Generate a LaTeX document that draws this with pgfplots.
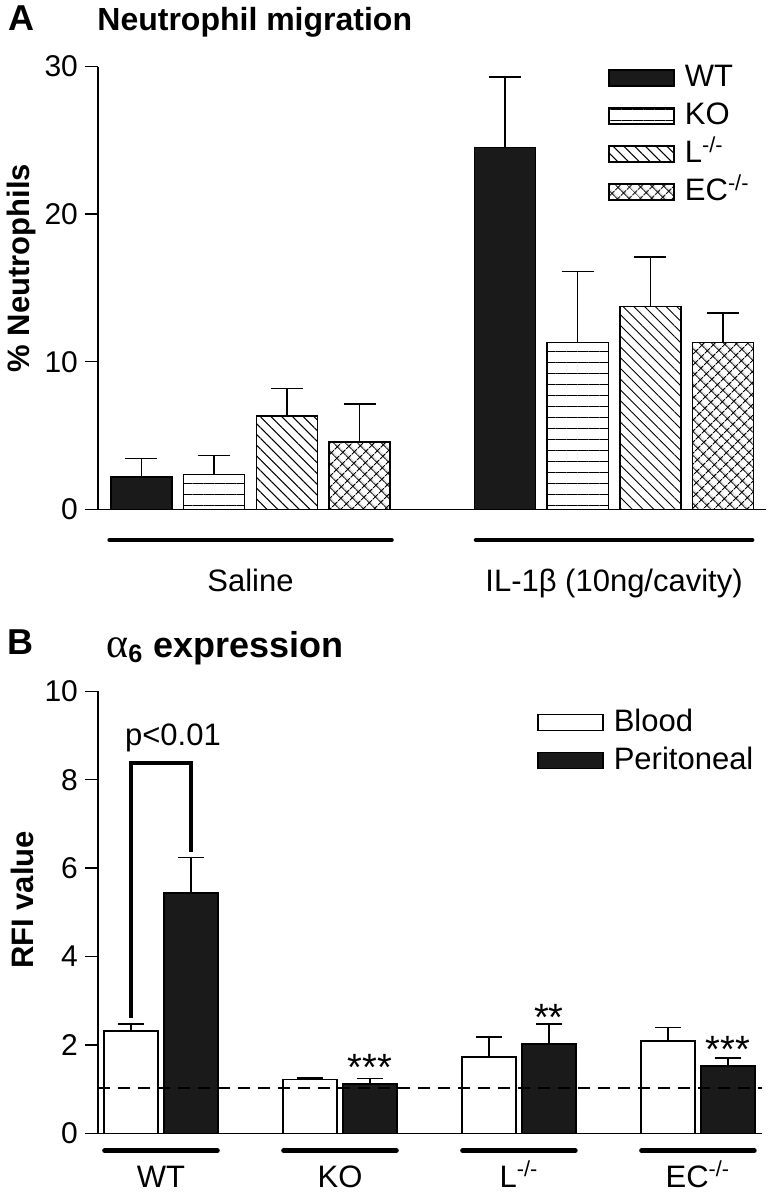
\documentclass[border=0pt]{standalone}
\usepackage{pgfplots}
\pgfplotsset{compat=1.18}
\usepackage{fontspec}
\setmainfont{Liberation Sans}
\newfontfamily\greekserif{Liberation Serif}
\usetikzlibrary{patterns.meta}
\definecolor{barblack}{RGB}{26,26,26}
\pgfplotsset{
  errA/.style={error bars/.cd, y dir=plus, y explicit,
    error bar style={line width=0.75pt, black},
    error mark options={rotate=90, mark size=8pt, line width=0.75pt, black}},
  errB/.style={error bars/.cd, y dir=plus, y explicit,
    error bar style={line width=0.75pt, black},
    error mark options={rotate=90, mark size=6.5pt, line width=0.75pt, black}},
}
\begin{document}
\begin{tikzpicture}
\useasboundingbox (0,0) rectangle (383.5pt,-599.5pt);
% ---------------- Panel A ----------------
\node[anchor=base west, inner sep=0pt, font=\bfseries\fontsize{18}{21}\selectfont] at (4pt,-15.5pt) {A};
\node[anchor=base west, inner sep=0pt, font=\bfseries\fontsize{16}{19}\selectfont] at (48.5pt,-15pt) {Neutrophil migration};
\begin{axis}[
  at={(49pt,-254.65pt)}, anchor=south west,
  scale only axis, width=334pt, height=221.4pt,
  xmin=-0.598, xmax=8.59, ymin=0, ymax=30,
  axis x line*=bottom, axis y line*=left,
  axis line style={line width=0.75pt},
  ytick={0,10,20,30},
  tick align=outside, major tick length=6.5pt,
  y tick style={line width=0.75pt, black},
  xtick={1.5,6.5}, xticklabels={Saline,IL-1β (10ng/cavity)},
  x tick style={draw=none},
  xticklabel style={anchor=base, yshift=-34.5pt, font=\fontsize{15.5}{18}\selectfont},
  yticklabel style={font=\fontsize{15}{18}\selectfont},
  /pgf/number format/assume math mode=true,
  clip=false,
  ylabel={\% Neutrophils},
  ylabel style={at={(axis description cs:-0.114,0.545)}, anchor=center, font=\bfseries\fontsize{15.5}{18}\selectfont},
  legend image code/.code={\draw[#1] (0pt,-4pt) rectangle (32.5pt,4pt);},
  legend style={at={(axis description cs:0.7635,1.0136)}, anchor=north west, draw=none, fill=none,
    inner sep=0pt, row sep=2pt, column sep=3pt, font=\fontsize{15.5}{18}\selectfont,
    nodes={inner sep=2pt, text height=11pt, text depth=2pt}},
  legend cell align=left,
]
\addplot[ybar, bar width=0.84, bar shift=0pt, draw=black, line width=0.75pt, fill=barblack, errA]
  coordinates {(0,2.2) +- (0,1.25) (5,24.5) +- (0,4.8)};
\addplot[ybar, bar width=0.84, bar shift=0pt, draw=black, line width=0.75pt,
  pattern={Lines[angle=0,distance=5.5pt,line width=0.5pt]}, errA]
  coordinates {(1,2.35) +- (0,1.28) (6,11.3) +- (0,4.8)};
\addplot[ybar, bar width=0.84, bar shift=0pt, draw=black, line width=0.75pt,
  pattern={Lines[angle=-45,distance=3.8pt,line width=0.5pt]}, errA]
  coordinates {(2,6.32) +- (0,1.85) (7,13.73) +- (0,3.37)};
\addplot[ybar, bar width=0.84, bar shift=0pt, draw=black, line width=0.75pt,
  pattern={Hatch[angle=45,distance=4pt,line width=0.5pt]}, errA]
  coordinates {(3,4.56) +- (0,2.59) (8,11.3) +- (0,2.0)};
\legend{WT,KO,L\textsuperscript{-/-},EC\textsuperscript{-/-}}
\draw[line width=2.2pt, line cap=round] (axis cs:-0.44,-2.08) -- (axis cs:3.44,-2.08);
\draw[line width=2.2pt, line cap=round] (axis cs:4.6,-2.08) -- (axis cs:8.4,-2.08);
\end{axis}
% ---------------- Panel B ----------------
\node[anchor=base west, inner sep=0pt, font=\bfseries\fontsize{18}{21}\selectfont] at (3.5pt,-327pt) {B};
\node[anchor=base west, inner sep=0pt, font=\bfseries\fontsize{18}{21}\selectfont] at (53pt,-328.5pt) {{\mdseries\greekserif\fontsize{21}{21}\selectfont α}\textsubscript{6} expression};
\begin{axis}[
  at={(49pt,-566.65pt)}, anchor=south west,
  scale only axis, width=332pt, height=221pt,
  xmin=-0.352, xmax=3.358, ymin=0, ymax=10,
  ybar=3pt, bar width=27pt,
  axis x line*=bottom, axis y line*=left,
  axis line style={line width=0.75pt},
  ytick={0,2,4,6,8,10},
  tick align=outside, major tick length=6.5pt,
  y tick style={line width=0.75pt, black},
  xtick={0,1,2,3}, xticklabels={WT,KO,L\textsuperscript{-/-},EC\textsuperscript{-/-}},
  x tick style={draw=none},
  xticklabel style={anchor=base, yshift=-20.5pt, font=\fontsize{15.5}{18}\selectfont},
  yticklabel style={font=\fontsize{15}{18}\selectfont},
  /pgf/number format/assume math mode=true,
  clip=false,
  ylabel={RFI value},
  ylabel style={at={(axis description cs:-0.114,0.528)}, anchor=center, font=\bfseries\fontsize{15.5}{18}\selectfont},
  legend image code/.code={\draw[#1] (0pt,-4pt) rectangle (32.5pt,4pt);},
  legend style={at={(axis description cs:0.661,0.969)}, anchor=north west, draw=none, fill=none,
    inner sep=0pt, row sep=2pt, column sep=3pt, font=\fontsize{15.5}{18}\selectfont,
    nodes={inner sep=2pt, text height=11pt, text depth=2pt}},
  legend cell align=left,
]
\addplot[draw=black, line width=0.75pt, fill=white, errB]
  coordinates {(0,2.31) +- (0,0.16) (1,1.22) +- (0,0.03) (2,1.73) +- (0,0.45) (3,2.09) +- (0,0.30)};
\addplot[draw=black, line width=0.75pt, fill=barblack, errB]
  coordinates {(0,5.44) +- (0,0.80) (1,1.12) +- (0,0.12) (2,2.02) +- (0,0.45) (3,1.52) +- (0,0.18)};
\legend{Blood,Peritoneal}
\draw[dashed, dash pattern=on 6pt off 4pt, line width=0.75pt] (axis cs:-0.352,1.03) -- (axis cs:3.358,1.03);
\draw[line width=1.6pt] (axis cs:-0.1676,2.61) -- (axis cs:-0.1676,8.38) -- (axis cs:0.1676,8.38) -- (axis cs:0.1676,6.37);
\node[font=\fontsize{15.5}{18}\selectfont] at (axis cs:0.067,8.94) {p<0.01};
\node[font=\fontsize{19}{20}\selectfont] at (axis cs:1.1676,1.48) {***};
\node[font=\fontsize{19}{20}\selectfont] at (axis cs:2.1676,2.63) {**};
\node[font=\fontsize{19}{20}\selectfont] at (axis cs:3.1676,1.89) {***};
\draw[line width=2.4pt, line cap=round] (axis cs:-0.315,-0.39) -- (axis cs:0.315,-0.39);
\draw[line width=2.4pt, line cap=round] (axis cs:0.685,-0.39) -- (axis cs:1.315,-0.39);
\draw[line width=2.4pt, line cap=round] (axis cs:1.685,-0.39) -- (axis cs:2.315,-0.39);
\draw[line width=2.4pt, line cap=round] (axis cs:2.685,-0.39) -- (axis cs:3.315,-0.39);
\end{axis}
\end{tikzpicture}
\end{document}
